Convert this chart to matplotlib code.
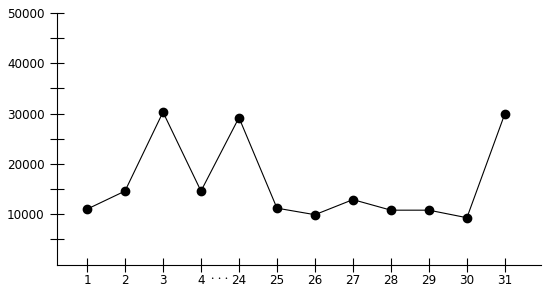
import matplotlib
matplotlib.use("Agg")
import matplotlib.pyplot as plt
from matplotlib import font_manager

# ── Data ──────────────────────────────────────────────────────────────────────
labels = ["1", "2", "3", "4", "24", "25", "26", "27", "28", "29", "30", "31"]
values = [11000, 14600, 30300, 14600, 29200, 11200, 9900, 12900, 10800, 10800, 9300, 30000]
y_major = [10000, 20000, 30000, 40000, 50000]
y_minor = [5000, 15000, 25000, 35000, 45000]

names = {f.name for f in font_manager.fontManager.ttflist}
narrow = [n for n in ("Liberation Sans Narrow", "DejaVu Sans Condensed") if n in names]
plt.rcParams["font.family"] = narrow + ["DejaVu Sans"]
plt.rcParams["font.stretch"] = "condensed"

fig = plt.figure(figsize=(5.46, 2.91), dpi=100)
ax = fig.add_axes([57 / 546, (291 - 264.5) / 291, (541 - 57) / 546, (264.5 - 13) / 291])

x = list(range(len(labels)))
ax.plot(x, values, color="black", linewidth=0.8, marker="o", markersize=6,
        markerfacecolor="black", markeredgecolor="black")

ax.set_xlim(-0.79, 11.95)
ax.set_ylim(0, 50000)
ax.set_xticks(x)
ax.set_xticklabels(labels)
ax.set_yticks(y_major)
ax.set_yticks(y_minor, minor=True)

for side in ("top", "right"):
    ax.spines[side].set_visible(False)
for side in ("left", "bottom"):
    ax.spines[side].set_linewidth(0.8)

ax.tick_params(axis="both", which="both", direction="inout", length=10,
               width=0.8, labelsize=9.5, colors="black")
ax.tick_params(axis="x", pad=2)
ax.tick_params(axis="y", pad=4)

# gap marker between 4 and 24
ax.text(3.5, -2800, "•  •  •", ha="center", va="center", fontsize=4.5,
        transform=ax.transData, clip_on=False)

fig.savefig("out.png", dpi=100)
